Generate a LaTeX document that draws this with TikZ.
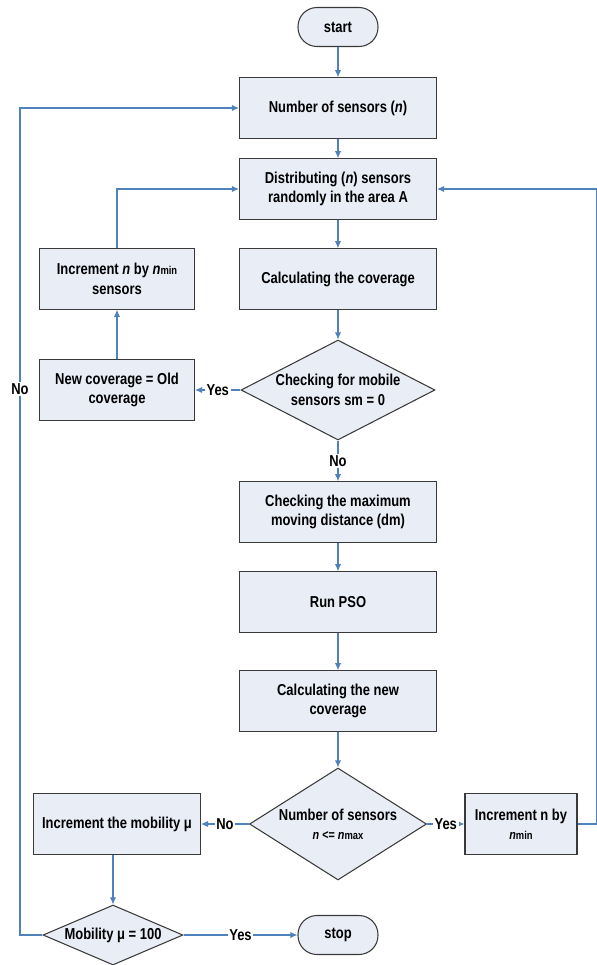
\documentclass[tikz,border=0pt]{standalone}
\usepackage{fontspec}
\setmainfont[FakeStretch=0.82]{Liberation Sans}
\usetikzlibrary{shapes.geometric,arrows.meta}
\definecolor{flowblue}{HTML}{4F81BD}
\definecolor{boxfill}{HTML}{E9EDF6}
\definecolor{boxline}{HTML}{3A3A3A}
\newcommand{\nsub}[1]{\textit{n}{\fontsize{6.5}{7}\selectfont #1}}

\begin{document}
\begin{tikzpicture}[x=0.02cm,y=-0.02cm,
    font=\fontsize{9}{11}\selectfont\bfseries,
    proc/.style={draw=boxline, fill=boxfill, line width=0.6pt, align=center,
        minimum width=3.94cm, minimum height=1.21cm, inner sep=2pt},
    term/.style={draw=boxline, fill=boxfill, line width=0.6pt,
        rounded corners=0.38cm, minimum width=1.6cm, minimum height=0.78cm},
    dec/.style={diamond, draw=boxline, fill=boxfill, line width=0.6pt, inner sep=0pt},
    flow/.style={draw=flowblue, line width=0.6pt, -{Latex[length=4pt,width=3.5pt]}},
    tag/.style={fill=white, inner sep=1pt}]
    \useasboundingbox (0,0) rectangle (597,965);

    % main column
    \node[term] (start) at (338,27) {start};
    \node[proc] (nsens) at (338,108) {Number of sensors (\textit{n})};
    \node[proc] (distr) at (338,189) {Distributing (\textit{n}) sensors\\randomly in the area A};
    \node[proc] (calc) at (338,279) {Calculating the coverage};
    \node[dec, minimum width=3.88cm, minimum height=2cm,
        label={[align=center]center:Checking for mobile\\sensors sm = 0}] (mobchk) at (338,390) {};
    \node[proc] (maxdist) at (338,512) {Checking the maximum\\moving distance (dm)};
    \node[proc] (pso) at (338,602) {Run PSO};
    \node[proc] (newcov) at (338,701) {Calculating the new\\coverage};
    \node[dec, minimum width=3.54cm, minimum height=2.24cm,
        label={[align=center]center:Number of sensors\\{\fontsize{7.5}{9}\selectfont\textit{n} <= \nsub{max}}}] (nchk) at (338,824) {};

    % left side
    \node[proc, minimum width=3.1cm] (incleft) at (117,279) {Increment \textit{n} by \nsub{min}\\sensors};
    \node[proc, minimum width=3.1cm] (same) at (117,390) {New coverage = Old\\coverage};
    \node[proc, minimum width=3.34cm] (incmob) at (117,824) {Increment the mobility μ};
    \node[dec, minimum width=2.8cm, minimum height=1.2cm,
        label={center:Mobility μ = 100}] (mobmax) at (113,935) {};
    \node[term] (stop) at (338,935) {stop};

    % right side
    \node[proc, minimum width=2.24cm] (incright) at (521,824) {Increment n by\\{\fontsize{7.5}{9}\selectfont\nsub{min}}};

    \coordinate (rc) at (597,824);
    \coordinate (lc) at (20,935);

    \draw[flow] (start) -- (nsens);
    \draw[flow] (nsens) -- (distr);
    \draw[flow] (distr) -- (calc);
    \draw[flow] (calc) -- (mobchk);
    \draw[flow] (mobchk.west) -- node[tag] {Yes} (same.east);
    \draw[flow] (same) -- (incleft);
    \draw[flow] (incleft.north) |- (distr.west);
    \draw[flow] (mobchk.south) -- node[tag] {No} (maxdist.north);
    \draw[flow] (maxdist) -- (pso);
    \draw[flow] (pso) -- (newcov);
    \draw[flow] (newcov) -- (nchk.north);
    \draw[flow] (nchk.west) -- node[tag] {No} (incmob.east);
    \draw[flow] (nchk.east) -- node[tag] {Yes} (incright.west);
    \draw[flow] (incright.east) -- (rc) |- (distr.east);
    \draw[flow] (incmob.south -| mobmax.north) -- (mobmax.north);
    \draw[flow] (mobmax.east) -- node[tag] {Yes} (stop.west);
    \draw[flow] (mobmax.west) -- (lc) |- node[tag, pos=0.33] {No} (nsens.west);
\end{tikzpicture}
\end{document}
